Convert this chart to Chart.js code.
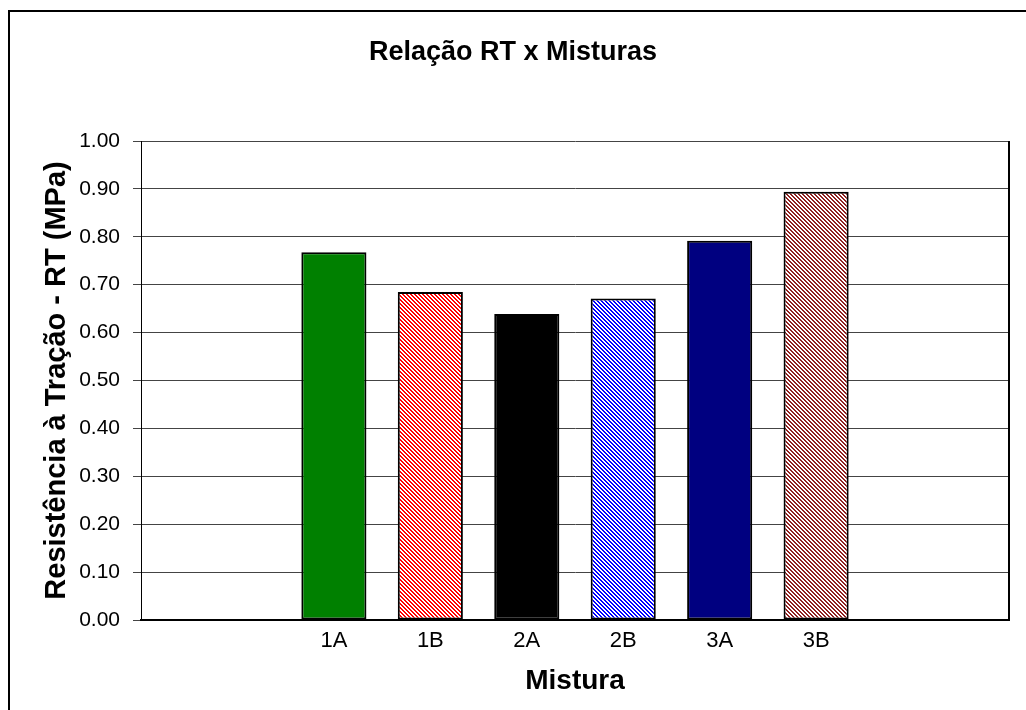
<!DOCTYPE html>
<html>
<head>
<meta charset="utf-8">
<title>Relação RT x Misturas</title>
<script src="https://cdn.jsdelivr.net/npm/chart.js@4.4.0/dist/chart.umd.min.js"></script>
<style>
    html, body { margin: 0; padding: 0; background: #fff; }
    #wrap { width: 1026px; height: 710px; }
</style>
</head>
<body>
<div id="wrap"><canvas id="rtChart" width="1026" height="710"></canvas></div>
<script>
// ====================================
// Data
// ====================================
var mixtures = ['1A', '1B', '2A', '2B', '3A', '3B'];
var rtValues = [0.768, 0.685, 0.639, 0.671, 0.792, 0.894];
var yTicks = [0.00, 0.10, 0.20, 0.30, 0.40, 0.50, 0.60, 0.70, 0.80, 0.90, 1.00];
// empty slots either side of the bars, as in the original sheet
var emptyLeft = 2;
var emptyRight = 2;

var FONT = "'Liberation Sans', Arial, sans-serif";

// ====================================
// Hatch patterns (backslash diagonal)
// ====================================
function hatch(color) {
    var c = document.createElement('canvas');
    c.width = 4;
    c.height = 4;
    var g = c.getContext('2d');
    g.fillStyle = '#fff';
    g.fillRect(0, 0, 4, 4);
    g.fillStyle = color;
    for (var y = 0; y < 4; y++) {
        for (var x = 0; x < 4; x++) {
            if (((x - y + 8) % 4) < 2) g.fillRect(x, y, 1, 1);
        }
    }
    return g.createPattern(c, 'repeat');
}

var barFills = ['#008000', hatch('#ff0000'), '#000000', hatch('#0000ff'), '#000080', hatch('#8f2020')];

// build padded arrays for the category axis
var labels = [];
var values = [];
var fills = [];
var i;
for (i = 0; i < emptyLeft; i++) { labels.push(''); values.push(null); fills.push('#fff'); }
for (i = 0; i < mixtures.length; i++) { labels.push(mixtures[i]); values.push(rtValues[i]); fills.push(barFills[i]); }
for (i = 0; i < emptyRight; i++) { labels.push(''); values.push(null); fills.push('#fff'); }

// ====================================
// Frame plugin: outer border + plot box
// ====================================
var framePlugin = {
    id: 'frame',
    beforeDraw: function(chart) {
        var ctx = chart.ctx;
        ctx.save();
        ctx.fillStyle = '#fff';
        ctx.fillRect(0, 0, chart.width, chart.height);
        ctx.strokeStyle = '#000';
        ctx.lineWidth = 2;
        ctx.strokeRect(9, 11, 1200, 900);
        ctx.restore();
    },
    beforeDatasetsDraw: function(chart) {
        var a = chart.chartArea;
        var ctx = chart.ctx;
        ctx.save();
        ctx.strokeStyle = '#000';
        ctx.lineWidth = 2;
        ctx.beginPath();
        ctx.moveTo(a.right, a.top);
        ctx.lineTo(a.right, a.bottom + 1);
        ctx.stroke();
        ctx.restore();
    }
};

var ctx = document.getElementById('rtChart').getContext('2d');
new Chart(ctx, {
    type: 'bar',
    data: {
        labels: labels,
        datasets: [{
            label: 'RT (MPa)',
            data: values,
            backgroundColor: fills,
            borderColor: '#000',
            borderWidth: 2,
            borderSkipped: false,
            categoryPercentage: 1,
            barPercentage: 0.675
        }]
    },
    options: {
        responsive: false,
        animation: false,
        layout: {
            padding: { left: 17, right: 17, top: 0, bottom: 0 }
        },
        plugins: {
            legend: { display: false },
            tooltip: { enabled: false },
            title: {
                display: true,
                text: 'Relação RT x Misturas',
                color: '#000',
                font: { family: FONT, size: 27, weight: 'bold' },
                padding: { top: 36, bottom: 72.6 }
            }
        },
        scales: {
            x: {
                offset: false,
                grid: { display: false, drawTicks: false },
                border: { display: true, color: '#000', width: 2 },
                ticks: {
                    color: '#000',
                    padding: 8,
                    maxRotation: 0,
                    autoSkip: false,
                    font: { family: FONT, size: 22 }
                },
                title: {
                    display: true,
                    text: 'Mistura',
                    color: '#000',
                    font: { family: FONT, size: 28, weight: 'bold' },
                    padding: { top: 0, bottom: 12 }
                },
                afterFit: function(scale) { scale.height = 90; }
            },
            y: {
                min: 0,
                max: 1,
                afterBuildTicks: function(scale) {
                    scale.ticks = yTicks.map(function(v) { return { value: v }; });
                },
                grid: { color: '#444', lineWidth: 1, tickLength: 8 },
                border: { display: true, color: '#000', width: 1 },
                ticks: {
                    color: '#000',
                    padding: 13,
                    font: { family: FONT, size: 21 },
                    callback: function(v) { return Number(v).toFixed(2); }
                },
                title: {
                    display: true,
                    text: 'Resistência à Tração - RT (MPa)',
                    color: '#000',
                    font: { family: FONT, size: 29, weight: 'bold' },
                    padding: { top: 23, bottom: 0 }
                },
                afterFit: function(scale) { scale.width = 124; }
            }
        }
    },
    plugins: [framePlugin]
});
</script>
</body>
</html>
